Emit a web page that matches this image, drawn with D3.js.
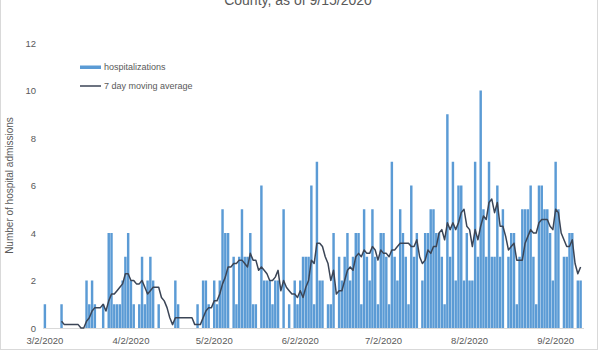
<!DOCTYPE html>
<html><head><meta charset="utf-8">
<script src="https://cdn.jsdelivr.net/npm/d3@7"></script>
<style>body{margin:0;background:#fff}svg{display:block}</style>
</head><body><svg id="c" width="600" height="350"></svg>
<script>
// ---- data ----
const startDate = "2020-03-02";
const endDate = "2020-09-11";
const hospitalizations = [
  1,0,0,0,0,0,1,0,0,0,0,0,0,0,0,2,1,2,1,0,0,1,0,4,4,1,1,1,2,3,   // 3/2 - 3/31
  4,2,1,0,1,3,1,2,3,2,0,1,0,0,0,0,0,2,1,0,0,0,0,0,0,1,0,2,2,1,   // 4/1 - 4/30
  0,2,1,2,5,4,4,0,3,1,3,5,3,3,4,1,1,0,6,2,2,2,1,2,2,0,5,0,1,0,2, // 5/1 - 5/31
  1,2,3,3,3,6,1,7,2,2,0,1,1,4,0,3,2,3,4,2,3,4,4,1,5,3,2,5,3,1,   // 6/1 - 6/30
  4,4,3,1,7,3,2,5,4,3,1,6,3,4,0,2,4,4,5,5,4,4,3,1,9,3,7,2,6,6,2, // 7/1 - 7/31
  4,2,2,7,3,10,5,3,7,3,3,6,3,5,0,3,4,4,1,3,5,5,5,6,3,1,6,6,5,5,4,// 8/1 - 8/31
  2,7,5,0,3,3,4,4,0,2,2                                           // 9/1 - 9/11
];
const seriesNames = ["hospitalizations", "7 day moving average"];
const maWindow = 7;
const tickLabels = ["3/2/2020","4/2/2020","5/2/2020","6/2/2020","7/2/2020","8/2/2020","9/2/2020"];
const yTicks = [0, 2, 4, 6, 8, 10, 12];
const titleText = "County, as of 9/15/2020";
const yAxisTitle = "Number of hospital admissions";

// ---- build ----
const parseISO = d3.timeParse("%Y-%m-%d");
const parseLabel = d3.timeParse("%m/%d/%Y");
const key = d3.timeFormat("%Y-%m-%d");
const days = d3.timeDay.range(parseISO(startDate), d3.timeDay.offset(parseISO(endDate), 1));
const data = days.map((d, i) => ({date: d, key: key(d), value: hospitalizations[i]}));
const ma = data.map((d, i) => i >= maWindow - 1
  ? {key: d.key, value: d3.mean(data.slice(i - maWindow + 1, i + 1), e => e.value)} : null).filter(Boolean);

const svg = d3.select("#c");
const gray = "#595959";
const font = "'Liberation Sans', Arial, sans-serif";

// chart border
svg.append("rect").attr("x", 0.5).attr("y", -20).attr("width", 597).attr("height", 369.5)
  .attr("fill", "none").attr("stroke", "#d9d9d9");

const x = d3.scaleBand().domain(data.map(d => d.key)).range([43.5, 582]).paddingInner(0.12).paddingOuter(0.06);
const y = d3.scaleLinear().domain([0, 12]).range([328, 43]);

// bars
svg.append("g").selectAll("rect").data(data.filter(d => d.value > 0)).join("rect")
  .attr("x", d => x(d.key)).attr("width", x.bandwidth())
  .attr("y", d => y(d.value)).attr("height", d => y(0) - y(d.value))
  .attr("fill", "#5b9bd5");

// x axis baseline
svg.append("line").attr("x1", 43).attr("x2", 584).attr("y1", y(0) + 0.5).attr("y2", y(0) + 0.5)
  .attr("stroke", "#d9d9d9").attr("stroke-width", 1);

// moving average
const line = d3.line().x(d => x(d.key) + x.bandwidth() / 2).y(d => y(d.value));
svg.append("path").datum(ma).attr("d", line).attr("fill", "none")
  .attr("stroke", "#3b4556").attr("stroke-width", 1.5).attr("stroke-linejoin", "round");

// y axis labels
const yAxis = d3.axisLeft(y).tickValues(yTicks).tickSize(0).tickPadding(0);
const gy = svg.append("g").attr("transform", "translate(36,0)").call(yAxis);
gy.select(".domain").remove();
gy.selectAll("text").attr("fill", gray).style("font", `9.5px ${font}`);

// x axis labels
const xAxis = d3.axisBottom(x).tickValues(tickLabels.map(t => key(parseLabel(t))))
  .tickFormat((k, i) => tickLabels[i]).tickSize(0).tickPadding(0);
const gx = svg.append("g").attr("transform", `translate(0,${y(0) + 9})`).call(xAxis);
gx.select(".domain").remove();
gx.selectAll("text").attr("fill", gray).style("font", `9.5px ${font}`);

// title (only its lower line is inside the frame, as in the reference)
svg.append("text").attr("x", 298).attr("y", 5).attr("text-anchor", "middle")
  .attr("fill", gray).style("font", `14px ${font}`).text(titleText);

// y axis title
svg.append("text").attr("transform", `translate(13,${(y(0) + y(12)) / 2}) rotate(-90)`)
  .attr("text-anchor", "middle").attr("fill", gray).style("font", `10px ${font}`).text(yAxisTitle);

// legend
const lg = svg.append("g").attr("transform", "translate(80,0)");
lg.append("rect").attr("x", 0).attr("y", 65.5).attr("width", 21).attr("height", 3.5).attr("fill", "#5b9bd5");
lg.append("text").attr("x", 24).attr("y", 67.3).attr("dy", "0.35em").attr("fill", gray)
  .style("font", `9px ${font}`).text(seriesNames[0]);
lg.append("line").attr("x1", 0).attr("x2", 21).attr("y1", 86).attr("y2", 86)
  .attr("stroke", "#3b4556").attr("stroke-width", 1.5);
lg.append("text").attr("x", 24).attr("y", 86).attr("dy", "0.35em").attr("fill", gray)
  .style("font", `9px ${font}`).text(seriesNames[1]);
</script></body></html>
